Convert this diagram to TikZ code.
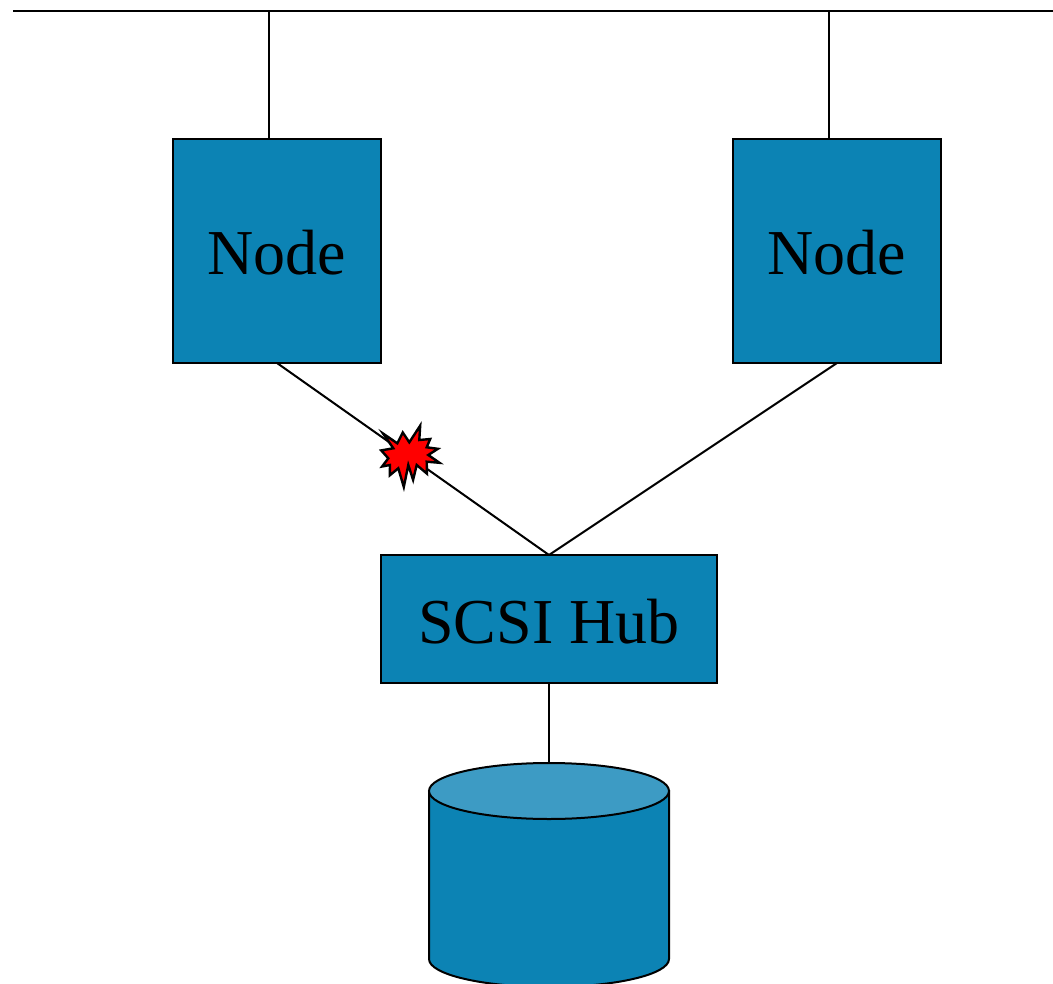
\documentclass[tikz,border=0pt]{standalone}
\usepackage{fontspec}
\setmainfont{Liberation Serif}
\definecolor{diskblue}{RGB}{12,131,180}
\definecolor{disktop}{RGB}{61,155,196}
\tikzset{
    box/.style={rectangle, draw, fill=diskblue, line width=1.5pt, outer sep=0pt,
    	font=\fontsize{48}{48}\selectfont, text height=36pt, text depth=0pt}
}
\tikzset{
    nodebox/.style={box, minimum width=156pt, minimum height=168pt}
}
\tikzset{
    wire/.style={line width=1.5pt}
}
\begin{document}
\begin{tikzpicture}[x=0.75pt, y=-0.75pt]
	\useasboundingbox (0,0) rectangle (1053,984);
	\coordinate (busl) at (13,11);
	\coordinate (busr) at (1053,11);
	\coordinate (dropl) at (269,11);
	\coordinate (dropr) at (829,11);
	\coordinate (disk) at (549,763);

	\node (nodel) [nodebox] at (277,251) {Node};
	\node (noder) [nodebox] at (837,251) {Node};
	\node (hub) [box, minimum width=252pt, minimum height=96pt] at (549,619) {SCSI Hub};

	\draw [wire] (busl) -- (busr);
	\draw [wire] (dropl) -- (dropl |- nodel.north);
	\draw [wire] (dropr) -- (dropr |- noder.north);
	\draw [wire] (nodel.south) -- (hub.north);
	\draw [wire] (noder.south) -- (hub.north);
	\draw [wire] (hub.south) -- (disk);

	\draw [wire, fill=diskblue] (429,791) -- (429,959) arc (180:0:120 and 28) -- (669,791) -- cycle;
	\draw [wire, fill=disktop] (549,791) ellipse (120 and 28);

	\draw [line width=1.8pt, fill=red] (383,433.5) -- (397.3,443.3) -- (402.8,432.5) -- (409.3,442.3)
		-- (420.2,425.6) -- (419.3,440) -- (430.2,439) -- (426.7,447.3) -- (437.9,448.8) -- (428.3,455)
		-- (439.5,462.8) -- (426.7,461.7) -- (427,473.7) -- (416.7,465) -- (413.1,479.9) -- (408.3,465)
		-- (403.8,487) -- (398.3,468.3) -- (389.8,475.3) -- (390,465) -- (382.1,466.5) -- (388.3,458.3)
		-- (381.2,450.4) -- (393.3,448.3) -- cycle;
\end{tikzpicture}
\end{document}
